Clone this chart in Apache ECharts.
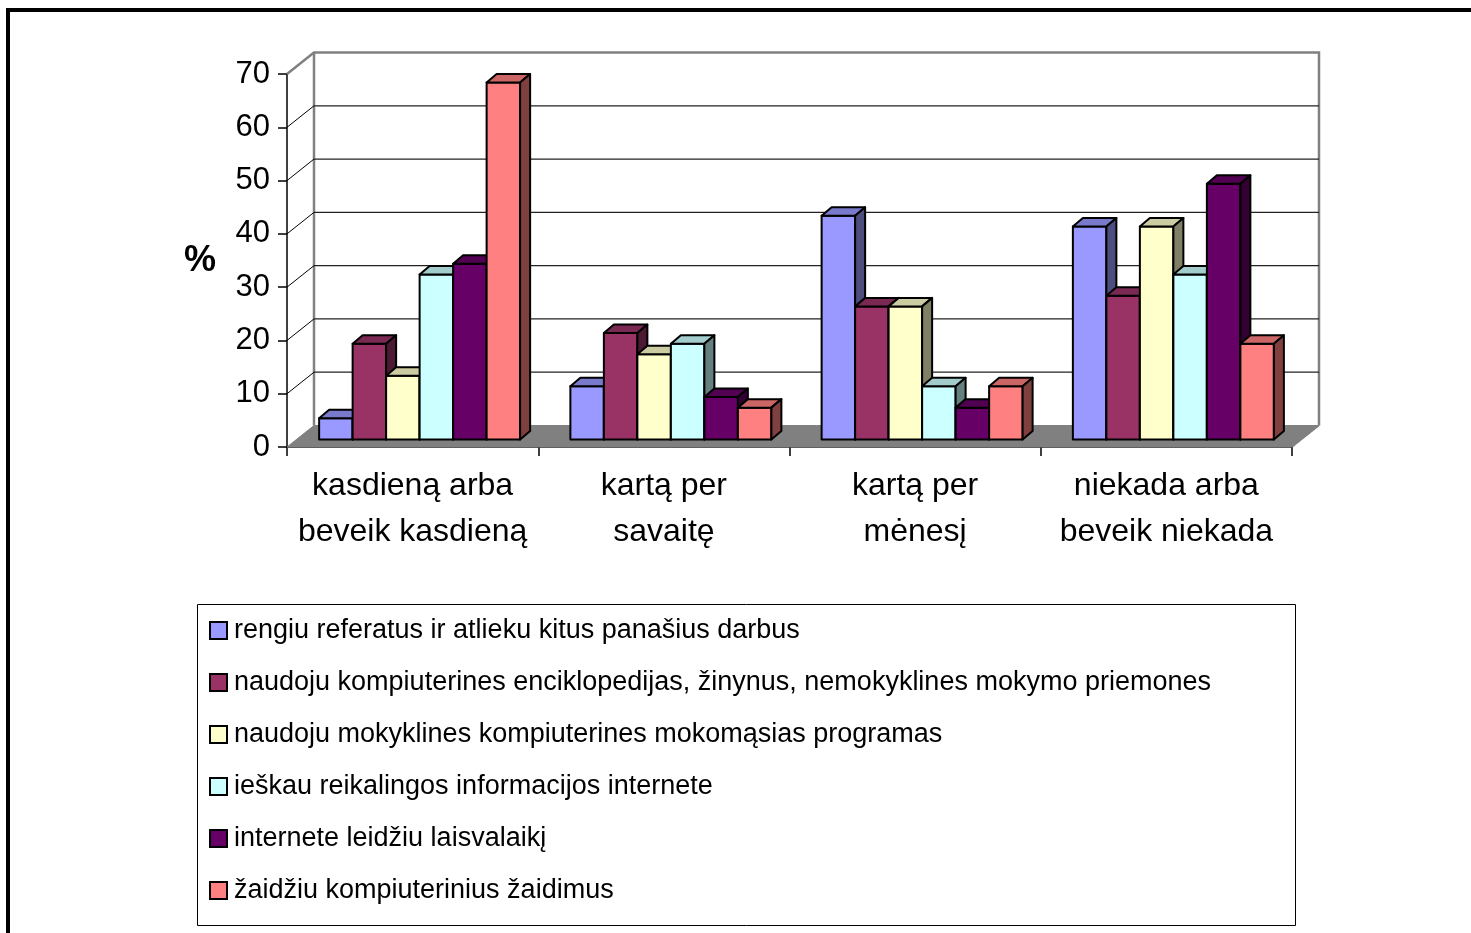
<!DOCTYPE html>
<html>
<head>
<meta charset="utf-8">
<title>Kompiuterio naudojimas</title>
<script src="https://cdn.jsdelivr.net/npm/echarts@6/dist/echarts.min.js"></script>
<style>
  html, body { margin: 0; padding: 0; background: #fff; }
  #chart { width: 1471px; height: 933px; }
</style>
</head>
<body>
<div id="chart"></div>
<script>
  // duomenys (%)
  var categories = ['kasdieną arba\nbeveik kasdieną', 'kartą per\nsavaitę', 'kartą per\nmėnesį', 'niekada arba\nbeveik niekada'];
  var seriesNames = [
    'rengiu referatus ir atlieku kitus panašius darbus',
    'naudoju kompiuterines enciklopedijas, žinynus, nemokyklines mokymo priemones',
    'naudoju mokyklines kompiuterines mokomąsias programas',
    'ieškau reikalingos informacijos internete',
    'internete leidžiu laisvalaikį',
    'žaidžiu kompiuterinius žaidimus'
  ];
  var referatai = [4, 10, 42, 40];
  var enciklopedijos = [18, 20, 25, 27];
  var mokomosios = [12, 16, 25, 40];
  var informacija = [31, 18, 10, 31];
  var laisvalaikis = [33, 8, 6, 48];
  var zaidimai = [67, 6, 10, 18];
  var yTicks = [0, 10, 20, 30, 40, 50, 60, 70];

  var seriesValues = [referatai, enciklopedijos, mokomosios, informacija, laisvalaikis, zaidimai];
  var colors = ['#9999FF', '#993366', '#FFFFCC', '#CCFFFF', '#660066', '#FF8080'];
  var topColors = ['#7A7ACC', '#7A2952', '#CCCCA3', '#A3CCCC', '#520052', '#CC6666'];
  var sideColors = ['#4D4D80', '#4D1A33', '#808066', '#668080', '#330033', '#804040'];

  var FONT = '"Liberation Sans", Arial, sans-serif';
  // 3D pseudo perspective
  var WALL_DX = 27, WALL_DY = -21.5;   // front axis -> back wall
  var BAR_DX = 7, BAR_DY = -7.4;       // front axis -> bar front face
  var DEPTH_DX = 10, DEPTH_DY = -8.5;  // bar depth
  var GROUP_RATIO = 0.8;

  var chart = echarts.init(document.getElementById('chart'));

  function renderWalls(params, api) {
    var cs = params.coordSys;
    var v = api.value(0);
    var y = api.coord([0, v])[1];
    var xl = cs.x, xr = cs.x + cs.width;
    var children = [];
    if (params.dataIndex === 0) {
      // floor
      children.push({
        type: 'polygon',
        shape: { points: [[xl, y], [xl + WALL_DX, y + WALL_DY], [xr + WALL_DX, y + WALL_DY], [xr, y]] },
        style: { fill: '#808080', stroke: '#808080', lineWidth: 1 }
      });
      var yTop = api.coord([0, yTicks[yTicks.length - 1]])[1];
      // left wall top, back wall top and right edge
      children.push({
        type: 'polyline',
        shape: { points: [[xl, yTop], [xl + WALL_DX, yTop + WALL_DY], [xr + WALL_DX, yTop + WALL_DY], [xr + WALL_DX, y + WALL_DY]] },
        style: { fill: null, stroke: '#808080', lineWidth: 2.5 }
      });
      children.push({
        type: 'line',
        shape: { x1: xl + WALL_DX, y1: yTop + WALL_DY, x2: xl + WALL_DX, y2: y + WALL_DY },
        style: { stroke: '#808080', lineWidth: 2.5 }
      });
      children.push({
        type: 'line',
        shape: { x1: xr, y1: y, x2: xr + WALL_DX, y2: y + WALL_DY },
        style: { stroke: '#808080', lineWidth: 1.5 }
      });
      return { type: 'group', children: children };
    }
    if (v === yTicks[yTicks.length - 1]) return { type: 'group', children: [] };
    children.push({
      type: 'line',
      shape: { x1: xl, y1: y, x2: xl + WALL_DX, y2: y + WALL_DY },
      style: { stroke: '#000', lineWidth: 1 }
    });
    children.push({
      type: 'line',
      shape: { x1: xl + WALL_DX, y1: y + WALL_DY, x2: xr + WALL_DX, y2: y + WALL_DY },
      style: { stroke: '#222', lineWidth: 1.2 }
    });
    return { type: 'group', children: children };
  }

  function makeBarRenderer(i) {
    return function (params, api) {
      var cat = api.value(0), val = api.value(1);
      var base = api.coord([cat, 0]);
      var top = api.coord([cat, val]);
      var band = api.size([1, 0])[0];
      var groupW = band * GROUP_RATIO;
      var barW = groupW / seriesValues.length;
      var x0 = base[0] - band / 2 + BAR_DX + (band - groupW) / 2 + i * barW;
      var x1 = x0 + barW;
      var yb = base[1] + BAR_DY, yt = top[1] + BAR_DY;
      var edge = { stroke: '#000', lineWidth: 2, lineJoin: 'round' };
      return {
        type: 'group',
        children: [
          { type: 'rect', shape: { x: x0, y: yt, width: barW, height: yb - yt },
            style: Object.assign({ fill: colors[i] }, edge) },
          { type: 'polygon', shape: { points: [[x0, yt], [x0 + DEPTH_DX, yt + DEPTH_DY], [x1 + DEPTH_DX, yt + DEPTH_DY], [x1, yt]] },
            style: Object.assign({ fill: topColors[i] }, edge) },
          { type: 'polygon', shape: { points: [[x1, yt], [x1 + DEPTH_DX, yt + DEPTH_DY], [x1 + DEPTH_DX, yb + DEPTH_DY], [x1, yb]] },
            style: Object.assign({ fill: sideColors[i] }, edge) }
        ]
      };
    };
  }

  var series = [{
    name: 'walls',
    type: 'custom',
    renderItem: renderWalls,
    data: yTicks.map(function (v) { return [v]; }),
    encode: { y: 0 },
    silent: true,
    z: 1
  }];
  seriesValues.forEach(function (vals, i) {
    series.push({
      name: seriesNames[i],
      type: 'custom',
      renderItem: makeBarRenderer(i),
      itemStyle: { color: colors[i] },
      data: vals.map(function (v, c) { return [c, v]; }),
      encode: { x: 0, y: 1 },
      z: 5
    });
  });

  chart.setOption({
    animation: false,
    backgroundColor: '#fff',
    textStyle: { fontFamily: FONT },
    title: {
      text: '%',
      left: 184,
      top: 243,
      padding: 0,
      textStyle: { fontFamily: FONT, fontSize: 36, fontWeight: 'bold', color: '#000' }
    },
    grid: { left: 287, top: 74, width: 1005, height: 373 },
    xAxis: {
      type: 'category',
      data: categories,
      axisLine: { show: true, lineStyle: { color: '#000', width: 1.5 } },
      axisTick: { show: true, length: 9, lineStyle: { color: '#000', width: 1.5 } },
      axisLabel: { interval: 0, fontFamily: FONT, fontSize: 32, color: '#000', lineHeight: 46, margin: 16 },
      splitLine: { show: false }
    },
    yAxis: {
      type: 'value',
      min: 0,
      max: 70,
      interval: 10,
      axisLine: { show: true, lineStyle: { color: '#000', width: 1.5 } },
      axisTick: { show: true, length: 9, lineStyle: { color: '#000', width: 1.5 } },
      axisLabel: { fontFamily: FONT, fontSize: 31, color: '#000', margin: 17 },
      splitLine: { show: false }
    },
    legend: {
      data: seriesNames,
      orient: 'vertical',
      left: 209,
      top: 617,
      padding: 0,
      itemWidth: 17,
      itemHeight: 17,
      itemGap: 25,
      icon: 'rect',
      itemStyle: { borderColor: '#000', borderWidth: 2 },
      textStyle: { fontFamily: FONT, fontSize: 27, color: '#000', lineHeight: 27, padding: [0, 0, 0, 2] }
    },
    graphic: [
      { type: 'rect', shape: { x: 197.5, y: 604.5, width: 1098, height: 321 },
        style: { fill: null, stroke: '#000', lineWidth: 1 }, silent: true },
      { type: 'rect', shape: { x: 8, y: 10, width: 1500, height: 1000 },
        style: { fill: null, stroke: '#000', lineWidth: 4 }, silent: true }
    ],
    series: series
  });
</script>
</body>
</html>
